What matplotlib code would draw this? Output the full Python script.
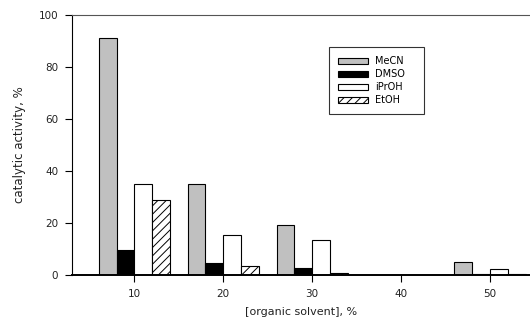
import matplotlib

matplotlib.use("Agg")
import matplotlib.pyplot as plt
import numpy as np

plt.rcParams.update({
    "font.family": "DejaVu Sans",
    "hatch.linewidth": 0.7,
})

# catalytic activity (%) vs organic solvent concentration (%)
conc = [10, 20, 30, 40, 50]
solvents = ["MeCN", "DMSO", "iPrOH", "EtOH"]
mecn = [91, 35, 19.2, 0, 4.9]
dmso = [9.5, 4.7, 2.6, 0, 0.3]
iproh = [35, 15.4, 13.4, 0, 2.3]
etoh = [28.8, 3.5, 0.9, 0, 0.3]

series = [mecn, dmso, iproh, etoh]
fills = ["#c0c0c0", "black", "white", "white"]
hatches = [None, None, None, "////"]

fig = plt.figure(figsize=(5.3, 3.21), dpi=100)
ax = fig.add_axes([0.136, 0.143, 0.864, 0.81])

width = 2.0
offsets = [-1.5, -0.5, 0.5, 1.5]
x = np.array(conc, dtype=float)
for vals, fc, h, off, name in zip(series, fills, hatches, offsets, solvents):
    ax.bar(x + off * width, vals, width, color=fc, edgecolor="black",
           linewidth=0.8, hatch=h, label=name)

ax.set_xlim(3, 54.5)
ax.set_ylim(0, 100)
ax.set_xticks(conc)
ax.set_yticks([0, 20, 40, 60, 80, 100])

ax.spines["right"].set_visible(False)
ax.spines["top"].set_color("#555555")
ax.spines["top"].set_linewidth(0.8)
ax.spines["left"].set_linewidth(0.8)
ax.spines["bottom"].set_linewidth(1.4)
ax.tick_params(axis="both", direction="out", length=5, width=0.8,
               labelsize=7.5, pad=5, labelcolor="#222222")

ax.set_xlabel("[organic solvent], %", fontsize=8, labelpad=6, color="#222222")
ax.set_ylabel("catalytic activity, %", fontsize=8.5, labelpad=9, color="#222222")

# legend box stretched to a fixed width
leg = ax.legend(loc="upper left", bbox_to_anchor=(0.561, 0.627, 0.207, 0.25),
                mode="expand", fontsize=7,
                frameon=True, fancybox=False, edgecolor="black",
                handlelength=3.1, handleheight=0.55, handletextpad=0.7,
                labelspacing=0.3, borderpad=0.95, borderaxespad=0)
leg.get_frame().set_linewidth(0.8)

fig.savefig("out.png", dpi=100)
